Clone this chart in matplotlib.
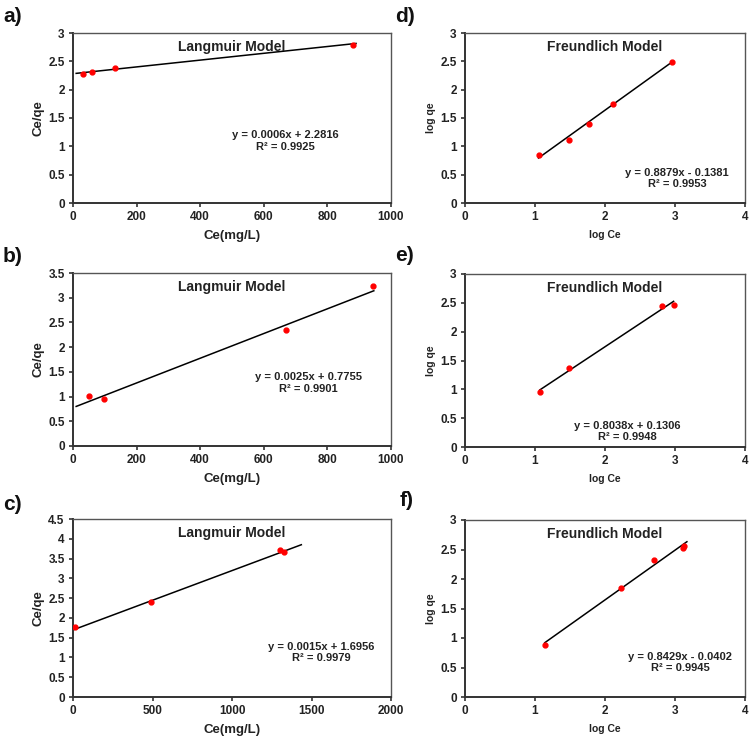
import matplotlib
matplotlib.use("Agg")
import matplotlib.pyplot as plt
import numpy as np

plt.rcParams['font.family'] = ['Liberation Sans', 'DejaVu Sans']
plt.rcParams['font.weight'] = 'bold'

# ---- data ----
a_x = [31, 60, 132, 880]
a_y = [2.28, 2.31, 2.39, 2.79]
a_slope, a_icpt = 0.0006, 2.2816
a_range = [10, 890]
a_eq = "y = 0.0006x + 2.2816\nR² = 0.9925"

b_x = [50, 96, 669, 943]
b_y = [1.01, 0.95, 2.35, 3.24]
b_slope, b_icpt = 0.0025, 0.7755
b_range = [10, 946]
b_eq = "y = 0.0025x + 0.7755\nR² = 0.9901"

c_x = [10, 493, 1300, 1325]
c_y = [1.76, 2.39, 3.71, 3.66]
c_slope, c_icpt = 0.0015, 1.6956
c_range = [0, 1436]
c_eq = "y = 0.0015x + 1.6956\nR² = 0.9979"

d_x = [1.05, 1.49, 1.77, 2.12, 2.95]
d_y = [0.845, 1.12, 1.39, 1.74, 2.49]
d_slope, d_icpt = 0.8879, -0.1381
d_range = [1.05, 2.95]
d_eq = "y = 0.8879x - 0.1381\nR² = 0.9953"

e_x = [1.07, 1.48, 2.82, 2.98]
e_y = [0.946, 1.364, 2.45, 2.455]
e_slope, e_icpt = 0.8038, 0.1306
e_range = [1.07, 2.98]
e_eq = "y = 0.8038x + 0.1306\nR² = 0.9948"

f_x = [1.14, 2.23, 2.70, 3.11, 3.13]
f_y = [0.885, 1.855, 2.32, 2.53, 2.56]
f_slope, f_icpt = 0.8429, -0.0402
f_range = [1.14, 3.17]
f_eq = "y = 0.8429x - 0.0402\nR² = 0.9945"

W, H = 751, 739
fig = plt.figure(figsize=(W / 100, H / 100), dpi=100)


def make_ax(l, r, t, b):
    return fig.add_axes([l / W, (H - b) / H, (r - l) / W, (b - t) / H])


def style(ax):
    for s in ['left', 'bottom']:
        ax.spines[s].set_color('#333333')
        ax.spines[s].set_linewidth(1.4)
    for s in ['top', 'right']:
        ax.spines[s].set_color('#555555')
        ax.spines[s].set_linewidth(1.0)
    ax.tick_params(direction='out', length=3, width=1.2, labelsize=8.5,
                   colors='#333333', labelcolor='#222222', pad=3)
    for lab in ax.get_xticklabels() + ax.get_yticklabels():
        lab.set_fontweight('bold')


def panel(ax, x, y, slope, icpt, rng, eq, title, xlim, ylim, xticks, yticks,
          xlabel, ylabel, eqpos, lbsize):
    xs = np.array(rng)
    ax.plot(xs, slope * xs + icpt, color='black', lw=1.1, zorder=2)
    ax.plot(x, y, 'o', color='red', ms=3.5, zorder=3, mec='red')
    ax.set_xlim(*xlim)
    ax.set_ylim(*ylim)
    ax.set_xticks(xticks)
    ax.set_yticks(yticks)
    ax.set_yticklabels([('%g' % v) for v in yticks])
    ax.set_xticklabels([('%g' % v) for v in xticks])
    style(ax)
    ax.set_xlabel(xlabel, fontsize=lbsize, fontweight='bold', color='#222222', labelpad=5)
    ax.set_ylabel(ylabel, fontsize=lbsize, fontweight='bold', color='#222222', labelpad=3)
    ax.text(0.5, 0.92, title, transform=ax.transAxes, ha='center', va='center',
            fontsize=10, fontweight='bold', color='#222222')
    ax.text(eqpos[0], eqpos[1], eq, transform=ax.transAxes, ha='center', va='center',
            fontsize=8, fontweight='bold', color='#222222', linespacing=1.2)


axa = make_ax(73, 391, 33, 203)
panel(axa, a_x, a_y, a_slope, a_icpt, a_range, a_eq, "Langmuir Model",
      (0, 1000), (0, 3), [0, 200, 400, 600, 800, 1000], [0, 0.5, 1, 1.5, 2, 2.5, 3],
      "Ce(mg/L)", "Ce/qe", (0.667, 0.365), 9.5)

axb = make_ax(73, 391, 273, 446)
panel(axb, b_x, b_y, b_slope, b_icpt, b_range, b_eq, "Langmuir Model",
      (0, 1000), (0, 3.5), [0, 200, 400, 600, 800, 1000],
      [0, 0.5, 1, 1.5, 2, 2.5, 3, 3.5],
      "Ce(mg/L)", "Ce/qe", (0.74, 0.365), 9.5)

axc = make_ax(73, 391, 519, 697)
panel(axc, c_x, c_y, c_slope, c_icpt, c_range, c_eq, "Langmuir Model",
      (0, 2000), (0, 4.5), [0, 500, 1000, 1500, 2000],
      [0, 0.5, 1, 1.5, 2, 2.5, 3, 3.5, 4, 4.5],
      "Ce(mg/L)", "Ce/qe", (0.78, 0.25), 9.5)

axd = make_ax(465, 745, 33, 203)
panel(axd, d_x, d_y, d_slope, d_icpt, d_range, d_eq, "Freundlich Model",
      (0, 4), (0, 3), [0, 1, 2, 3, 4], [0, 0.5, 1, 1.5, 2, 2.5, 3],
      "log Ce", "log qe", (0.757, 0.145), 7.5)

axe = make_ax(465, 745, 274, 447)
panel(axe, e_x, e_y, e_slope, e_icpt, e_range, e_eq, "Freundlich Model",
      (0, 4), (0, 3), [0, 1, 2, 3, 4], [0, 0.5, 1, 1.5, 2, 2.5, 3],
      "log Ce", "log qe", (0.58, 0.09), 7.5)

axf = make_ax(465, 745, 520, 697)
panel(axf, f_x, f_y, f_slope, f_icpt, f_range, f_eq, "Freundlich Model",
      (0, 4), (0, 3), [0, 1, 2, 3, 4], [0, 0.5, 1, 1.5, 2, 2.5, 3],
      "log Ce", "log qe", (0.768, 0.195), 7.5)

labels = [("a)", 3, 17), ("d)", 395, 17), ("b)", 3, 257), ("e)", 395, 255),
          ("c)", 3, 504), ("f)", 400, 501)]
for t, px, py in labels:
    fig.text(px / W, (H - py) / H, t, fontsize=15, fontweight='bold',
             ha='left', va='center', color='#111111')

fig.savefig("out.png", dpi=100, facecolor='white')
